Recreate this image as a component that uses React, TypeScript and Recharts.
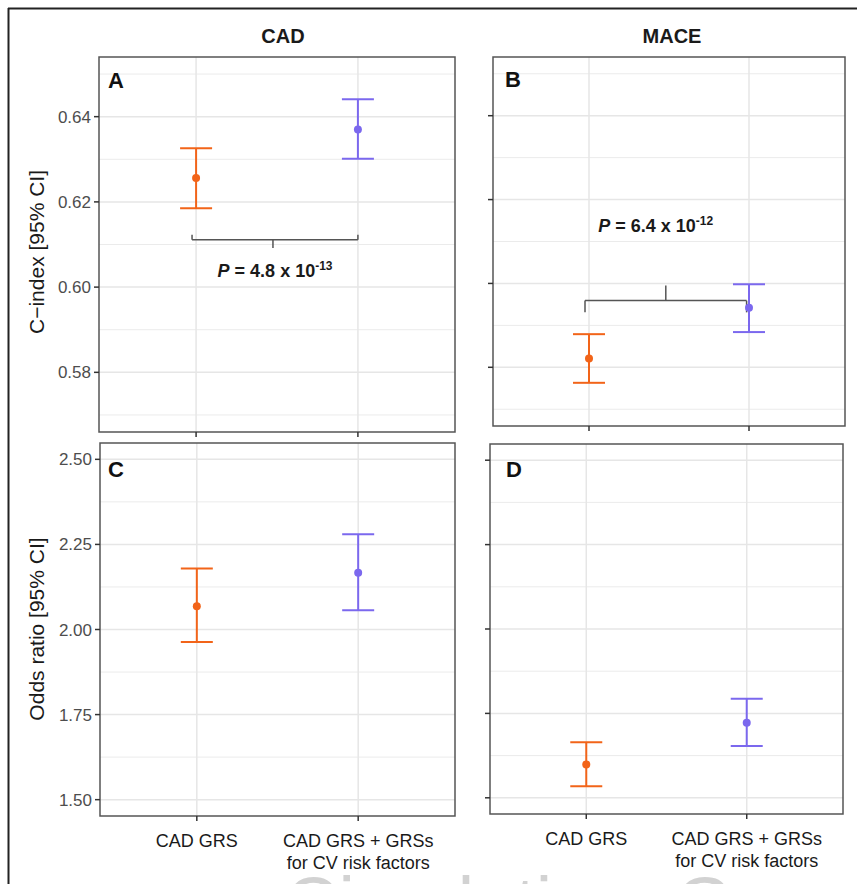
import React from 'react';
import {
  ScatterChart, Scatter, XAxis, YAxis, CartesianGrid, ErrorBar,
  ReferenceLine, ReferenceArea, ReferenceDot,
} from 'recharts';

const FONT = '"Liberation Sans", Arial, Helvetica, sans-serif';
const COLORS = ['#F26419', '#7B68EE'];

// model labels (two lines for the combined model)
const modelLines = [['CAD GRS'], ['CAD GRS + GRSs', 'for CV risk factors']];

// C-index, CAD outcome
const cCadEst = [0.6256, 0.637];
const cCadLow = [0.6185, 0.6301];
const cCadHigh = [0.6326, 0.6441];

// C-index, MACE outcome
const cMaceEst = [0.5821, 0.5942];
const cMaceLow = [0.5763, 0.5884];
const cMaceHigh = [0.5879, 0.5998];

// odds ratio, CAD outcome
const orCadEst = [2.0685, 2.1665];
const orCadLow = [1.9636, 2.0568];
const orCadHigh = [2.179, 2.28];

// odds ratio, MACE outcome
const orMaceEst = [1.5986, 1.7224];
const orMaceLow = [1.5344, 1.6532];
const orMaceHigh = [1.6647, 1.7935];

const xDomain = [0.4, 2.6];
const cTicks = [0.58, 0.6, 0.62, 0.64];
const cMinor = [0.57, 0.59, 0.61, 0.63, 0.65];
const cDomain = [0.566, 0.654];
const orTicks = [1.5, 1.75, 2.0, 2.25, 2.5];
const orMinor = [1.625, 1.875, 2.125, 2.375];
const orDomain = [1.452, 2.548];

// comparison brackets: [line y, end y, middle tick y], p text
const bracketA = { x: [0.975, 2.0], mid: 1.475, ys: [0.6111, 0.6123, 0.6092], textX: 1.488, textY: 0.6024, mant: '4.8', exp: '-13' };
const bracketB = { x: [0.975, 1.985], mid: 1.48, ys: [0.5959, 0.5931, 0.5995], textX: 1.417, textY: 0.6122, mant: '6.4', exp: '-12' };

function buildSeries(est: number[], low: number[], high: number[]) {
  return est.map((v, i) => [{ x: i + 1, y: v, err: [v - low[i], high[i] - v] }]);
}

const XTick = (props: any) => {
  const { x, y, payload } = props;
  const lines = modelLines[payload.value - 1] || [];
  return (
    <text x={x} y={y} textAnchor="middle" fontSize={18} fill="#1a1a1a" fontFamily={FONT}>
      {lines.map((l, i) => (
        <tspan key={i} x={x} dy={i === 0 ? 24 : 21.5}>{l}</tspan>
      ))}
    </text>
  );
};

const NoTick = () => <g />;

const PText = ({ viewBox, mant, exp }: any) => {
  if (!viewBox) return null;
  return (
    <text x={viewBox.x} y={viewBox.y} textAnchor="middle" fontSize={18} fontWeight="bold" fill="#1a1a1a" fontFamily={FONT}>
      <tspan fontStyle="italic">P</tspan> = {mant} x 10<tspan dy={-7} fontSize={12}>{exp}</tspan>
    </text>
  );
};

interface PanelProps {
  left: number; top: number; width: number; height: number;
  margin: { top: number; right: number; bottom: number; left: number };
  yWidth: number; xHeight: number;
  showY: boolean; showX: boolean;
  est: number[]; low: number[]; high: number[];
  ticks: number[]; minor: number[]; domain: number[];
  bracket?: any;
}

function Panel(p: PanelProps) {
  const series = buildSeries(p.est, p.low, p.high);
  return (
    <div style={{ position: 'absolute', left: p.left, top: p.top }}>
      <ScatterChart width={p.width} height={p.height} margin={p.margin}>
        <CartesianGrid horizontalValues={p.minor} vertical={false} stroke="#ebebeb" strokeWidth={1} />
        <CartesianGrid horizontalValues={p.ticks} verticalValues={[1, 2]} stroke="#e6e6e6" strokeWidth={1.5} />
        <XAxis
          type="number" dataKey="x" domain={xDomain} ticks={[1, 2]} allowDataOverflow
          height={p.xHeight} axisLine={false} tickSize={5}
          tickLine={{ stroke: '#333', strokeWidth: 1.5 }}
          tick={p.showX ? <XTick /> : <NoTick />}
        />
        <YAxis
          type="number" dataKey="y" domain={p.domain} ticks={p.ticks} allowDataOverflow
          width={p.yWidth} axisLine={false} tickSize={5} tickMargin={3}
          tickLine={{ stroke: '#333', strokeWidth: 1.5 }}
          tickFormatter={(v: number) => v.toFixed(2)}
          tick={p.showY ? { fontSize: 17, fill: '#4d4d4d', fontFamily: FONT } : <NoTick />}
        />
        <ReferenceArea x1={xDomain[0]} x2={xDomain[1]} y1={p.domain[0]} y2={p.domain[1]}
          fill="none" fillOpacity={0} stroke="#555" strokeWidth={1.5} ifOverflow="visible" />
        {p.bracket && (
          <ReferenceLine segment={[{ x: p.bracket.x[0], y: p.bracket.ys[0] }, { x: p.bracket.x[1], y: p.bracket.ys[0] }]} stroke="#555" strokeWidth={1.5} />
        )}
        {p.bracket && p.bracket.x.map((bx: number, i: number) => (
          <ReferenceLine key={'e' + i} segment={[{ x: bx, y: p.bracket.ys[0] }, { x: bx, y: p.bracket.ys[1] }]} stroke="#555" strokeWidth={1.5} />
        ))}
        {p.bracket && (
          <ReferenceLine segment={[{ x: p.bracket.mid, y: p.bracket.ys[0] }, { x: p.bracket.mid, y: p.bracket.ys[2] }]} stroke="#555" strokeWidth={1.5} />
        )}
        {p.bracket && (
          <ReferenceDot
            x={p.bracket.textX} y={p.bracket.textY} r={0} fill="none" stroke="none"
            label={{ content: (lp: any) => <PText viewBox={lp.viewBox} mant={p.bracket.mant} exp={p.bracket.exp} /> }}
          />
        )}
        {series.map((d, i) => (
          <Scatter
            key={i} data={d} fill={COLORS[i]} isAnimationActive={false}
            shape={(sp: any) => <circle cx={sp.cx} cy={sp.cy} r={4} fill={COLORS[i]} />}
          >
            <ErrorBar dataKey="err" direction="y" width={16} stroke={COLORS[i]} strokeWidth={2} />
          </Scatter>
        ))}
      </ScatterChart>
    </div>
  );
}

export default function App() {
  return (
    <div style={{ position: 'absolute', left: 0, top: 0, width: 857, height: 884, overflow: 'hidden', background: '#fff', fontFamily: FONT }}>
      <svg width={857} height={884} style={{ position: 'absolute', left: 0, top: 0 }}>
        <text x={285} y={929} fontSize={74} fill="#d2d2d2" fontFamily={FONT}>Circulation: Genomic</text>
        <line x1={8} y1={8.5} x2={857} y2={8.5} stroke="#222" strokeWidth={2} />
        <line x1={8.5} y1={8} x2={8.5} y2={884} stroke="#222" strokeWidth={2} />
        <text x={283} y={43} textAnchor="middle" fontSize={20} fontWeight="bold" fill="#1a1a1a">CAD</text>
        <text x={672} y={43} textAnchor="middle" fontSize={20} fontWeight="bold" fill="#1a1a1a">MACE</text>
        <text transform="translate(44,252) rotate(-90)" textAnchor="middle" fontSize={21} fill="#1a1a1a">C−index [95% CI]</text>
        <text transform="translate(44,629) rotate(-90)" textAnchor="middle" fontSize={21} fill="#1a1a1a">Odds ratio [95% CI]</text>
      </svg>
      <Panel left={0} top={0} width={470} height={445} margin={{ top: 57, right: 15, bottom: 0, left: 39 }}
        yWidth={60} xHeight={13} showY showX={false}
        est={cCadEst} low={cCadLow} high={cCadHigh} ticks={cTicks} minor={cMinor} domain={cDomain} bracket={bracketA} />
      <Panel left={430} top={0} width={427} height={439} margin={{ top: 57, right: 12, bottom: 0, left: 43 }}
        yWidth={20} xHeight={13} showY={false} showX={false}
        est={cMaceEst} low={cMaceLow} high={cMaceHigh} ticks={cTicks} minor={cMinor} domain={cDomain} bracket={bracketB} />
      <Panel left={0} top={430} width={470} height={446} margin={{ top: 13, right: 15, bottom: 0, left: 40 }}
        yWidth={60} xHeight={60} showY showX
        est={orCadEst} low={orCadLow} high={orCadHigh} ticks={orTicks} minor={orMinor} domain={orDomain} />
      <Panel left={430} top={430} width={427} height={444} margin={{ top: 14, right: 14, bottom: 0, left: 40 }}
        yWidth={20} xHeight={60} showY={false} showX
        est={orMaceEst} low={orMaceLow} high={orMaceHigh} ticks={orTicks} minor={orMinor} domain={orDomain} />
      <svg width={857} height={884} style={{ position: 'absolute', left: 0, top: 0, pointerEvents: 'none' }}>
        <text x={108} y={87.5} fontSize={22} fontWeight="bold" fill="#111">A</text>
        <text x={505} y={87} fontSize={22} fontWeight="bold" fill="#111">B</text>
        <text x={108} y={477} fontSize={22} fontWeight="bold" fill="#111">C</text>
        <text x={506} y={477} fontSize={22} fontWeight="bold" fill="#111">D</text>
      </svg>
    </div>
  );
}
